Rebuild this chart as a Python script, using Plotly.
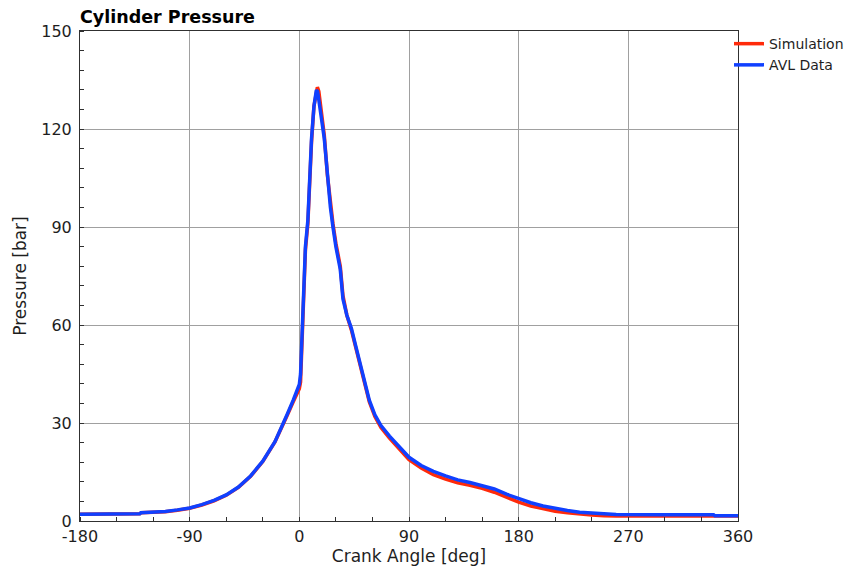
import plotly.graph_objects as go

# Crank angle [deg] and cylinder pressure [bar]
sim_angle = [-180, -150, -131, -130, -120, -110, -100, -90, -80, -70, -60, -50, -40, -30,
             -20, -15, -10, -5, -2, 0, 1, 2, 3, 4, 5, 7, 8.5, 10, 12, 14.8, 16, 18, 20.5,
             23, 25.5, 27.6, 30, 33.6, 35.8, 39, 42.7, 46, 49.5, 53, 57.4, 62, 67, 74, 81,
             86, 90, 100, 110, 120, 130, 140, 150, 160, 170, 180, 190, 200, 210, 220, 230,
             240, 250, 260, 300, 340, 360]
sim_pressure = [2.1, 2.1, 2.2, 2.5, 2.6, 2.8, 3.3, 3.9, 4.9, 6.2, 7.9, 10.3, 13.7, 18.2,
                24.2, 28.0, 32.3, 36.5, 38.8, 40.5, 42.5, 52, 64, 76, 83, 91, 104, 116, 127,
                132.8, 131.5, 126, 118, 106, 97, 91, 85, 78, 69, 63, 58.5, 53.5, 48.5, 42.5,
                36.5, 32, 28.6, 25.4, 22.6, 20.5, 18.8, 16.2, 14.2, 12.8, 11.7, 10.9, 10.0,
                8.8, 7.2, 5.8, 4.6, 3.7, 3.0, 2.5, 2.1, 1.8, 1.6, 1.5, 1.5, 1.5, 1.5]

avl_angle = [-180, -150, -131, -130, -120, -110, -100, -90, -80, -70, -60, -50, -40, -30,
             -20, -15, -10, -5, -2, 0, 1, 2, 3, 4, 5, 7, 8.5, 10, 12, 14, 15, 17, 19, 20.5,
             23, 25.5, 27.6, 30, 33.6, 35.8, 39, 42.7, 46, 49.5, 53, 57.4, 62, 67, 74, 81,
             86, 90, 100, 110, 120, 130, 140, 150, 160, 170, 180, 190, 200, 210, 220, 230,
             240, 250, 260, 300, 340, 341, 360]
avl_pressure = [2.1, 2.1, 2.2, 2.5, 2.6, 2.9, 3.4, 4.0, 5.0, 6.3, 8.0, 10.4, 13.8, 18.3,
                24.3, 28.2, 32.6, 37.0, 39.5, 41.8, 45, 55, 66, 77, 84, 92, 105, 117, 127,
                131.9, 131.5, 127, 121, 117, 105, 96, 90, 84, 77, 68, 63, 59, 54, 49, 43,
                37, 32.5, 29.2, 26, 23.3, 21.2, 19.5, 17.0, 15.2, 13.8, 12.6, 11.8, 10.9,
                9.8, 8.2, 6.8, 5.6, 4.6, 3.8, 3.2, 2.7, 2.4, 2.1, 2.0, 1.9, 1.9, 1.6, 1.6]

x_ticks = [-180, -90, 0, 90, 180, 270, 360]
y_ticks = [0, 30, 60, 90, 120, 150]

FONT = "DejaVu Sans, sans-serif"
TEXT = "#1e1e1e"

fig = go.Figure()
fig.add_trace(go.Scatter(x=sim_angle, y=sim_pressure, mode="lines", name="Simulation",
                         line=dict(color="#ff2a0a", width=3.5)))
fig.add_trace(go.Scatter(x=avl_angle, y=avl_pressure, mode="lines", name="AVL Data",
                         line=dict(color="#1040ff", width=3.5)))

axis_common = dict(
    showline=True, linecolor="#303030", linewidth=1, mirror=True,
    showgrid=True, gridcolor="#a0a0a0", gridwidth=1, zeroline=False,
    ticks="", tickfont=dict(family=FONT, size=16, color=TEXT), automargin=False,
    minor=dict(ticks="inside", ticklen=4, tickcolor="#303030", showgrid=False),
)

fig.update_xaxes(range=[-180, 360], tickvals=x_ticks, ticktext=[str(v) for v in x_ticks],
                 minor_dtick=30, minor_tick0=-180, ticklabelstandoff=1,
                 title=dict(text="Crank Angle [deg]", standoff=2,
                            font=dict(family=FONT, size=17, color=TEXT)),
                 **axis_common)
fig.update_yaxes(range=[0, 150], tickvals=y_ticks, ticktext=[str(v) for v in y_ticks],
                 minor_dtick=6, minor_tick0=0, ticklabelstandoff=4,
                 title=dict(text="Pressure [bar]", standoff=10,
                            font=dict(family=FONT, size=17, color=TEXT)),
                 **axis_common)

fig.update_layout(
    width=853, height=568,
    margin=dict(l=80, r=115, t=31, b=47, autoexpand=False),
    plot_bgcolor="white", paper_bgcolor="white",
    title=dict(text="<b>Cylinder Pressure</b>", x=80 / 853, xanchor="left",
               y=1 - 17 / 568, yanchor="middle", xref="container", yref="container",
               font=dict(family=FONT, size=17.5, color="#000000")),
    legend=dict(x=0.9863, y=1.006, xref="paper", yref="paper",
                xanchor="left", yanchor="top",
                bgcolor="rgba(0,0,0,0)", borderwidth=0, tracegroupgap=0,
                itemwidth=30, font=dict(family=FONT, size=14, color=TEXT)),
    showlegend=True,
)

fig.write_html("out.html")
